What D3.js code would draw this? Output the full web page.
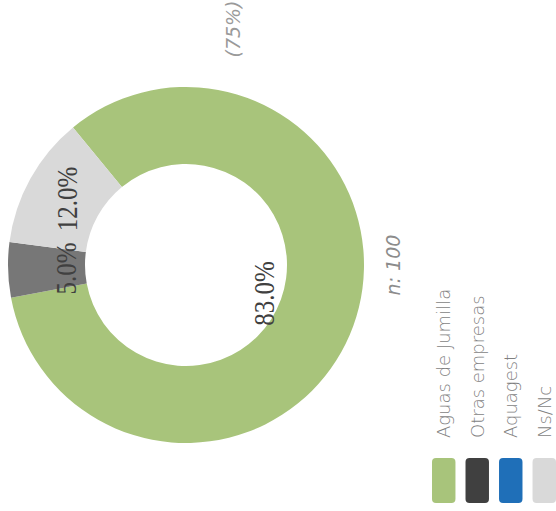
<!DOCTYPE html>
<html>
<head>
<meta charset="utf-8">
<script src="https://cdn.jsdelivr.net/npm/d3@7"></script>
<style>
  html, body { margin: 0; padding: 0; background: #fff; }
  svg { display: block; }
</style>
</head>
<body>
<div id="chart"></div>
<script>
// ---------- data ----------
const categories = ["Aguas de Jumilla", "Otras empresas", "Aquagest", "Ns/Nc"];
const shares = [83.0, 5.0, 0.0, 12.0];
const sliceColors = ["#a8c47b", "#777777", "#1f6fb8", "#d9d9d9"];
const legendColors = ["#a8c47b", "#404040", "#1f6fb8", "#d9d9d9"];
const sampleLabel = "n: 100";
const subtitle = "(75%)";

// ---------- layout ----------
const width = 556, height = 511;
const cx = 186, cy = 265;
const outerR = 178, innerR = 101;
const startDeg = -39.4; // first slice angle
// label radius per slice (where the value text sits)
const labelR = [83, 120, 0, 136];

const svg = d3.select("#chart").append("svg")
    .attr("width", width)
    .attr("height", height);

const pie = d3.pie()
    .sort(null)
    .value(d => d)
    .startAngle(startDeg * Math.PI / 180)
    .endAngle((startDeg + 360) * Math.PI / 180);

const arcs = pie(shares);
const arc = d3.arc().innerRadius(innerR).outerRadius(outerR);

const g = svg.append("g").attr("transform", `translate(${cx},${cy})`);

g.selectAll("path")
    .data(arcs)
    .join("path")
    .attr("d", arc)
    .attr("fill", (d, i) => sliceColors[i]);

// value labels, rotated like the rest of the picture
g.selectAll("text.val")
    .data(arcs.filter(d => d.data > 0))
    .join("text")
    .attr("class", "val")
    .attr("transform", d => {
        const i = d.index;
        const a = (d.startAngle + d.endAngle) / 2;
        const x = Math.sin(a) * labelR[i];
        const y = -Math.cos(a) * labelR[i];
        return `translate(${x},${y}) rotate(-90) scale(1,1.15)`;
    })
    .attr("text-anchor", "middle")
    .attr("dy", "0.35em")
    .style("font-family", "Liberation Serif, Times New Roman, serif")
    .style("font-size", "25px")
    .style("fill", "#404040")
    .text(d => d.data.toFixed(1) + "%");

// subtitle and sample size
svg.append("text")
    .attr("transform", "translate(233,29) rotate(-90)")
    .attr("text-anchor", "middle")
    .attr("dy", "0.35em")
    .style("font-family", "'DejaVu Sans', sans-serif")
    .style("font-style", "italic")
    .style("font-size", "19px")
    .style("fill", "#9a9a9a")
    .text(subtitle);

svg.append("text")
    .attr("transform", "translate(393,265) rotate(-90)")
    .attr("text-anchor", "middle")
    .attr("dy", "0.35em")
    .style("font-family", "'DejaVu Sans', sans-serif")
    .style("font-style", "italic")
    .style("font-size", "19px")
    .style("fill", "#8c8c8c")
    .text(sampleLabel);

// ---------- legend ----------
const legendX = d3.scaleBand()
    .domain(categories)
    .range([432, 556])
    .paddingInner(0.3)
    .paddingOuter(0);

const legend = svg.append("g");

legend.selectAll("rect")
    .data(categories)
    .join("rect")
    .attr("x", d => legendX(d))
    .attr("y", 458)
    .attr("width", legendX.bandwidth())
    .attr("height", 45)
    .attr("rx", 4)
    .attr("fill", (d, i) => legendColors[i]);

legend.selectAll("text")
    .data(categories)
    .join("text")
    .attr("transform", d => `translate(${legendX(d) + legendX.bandwidth() / 2},438) rotate(-90)`)
    .attr("dy", "0.35em")
    .style("font-family", "'DejaVu Sans', sans-serif")
    .style("font-weight", "200")
    .style("font-size", "18px")
    .style("fill", "#7f7f7f")
    .text(d => d);
</script>
</body>
</html>
